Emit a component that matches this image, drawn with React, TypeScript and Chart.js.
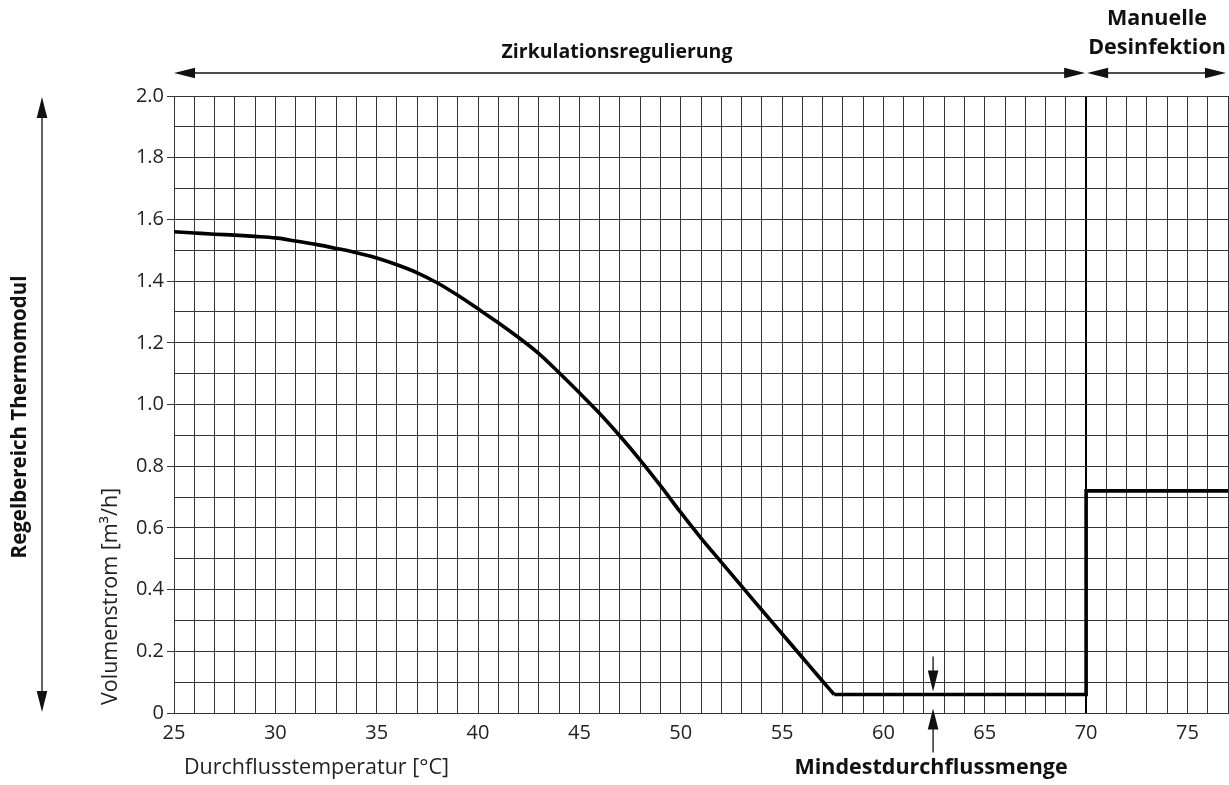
import React, { useEffect, useRef } from 'react';
import { Chart, registerables } from 'chart.js';

Chart.register(...registerables);

// ---- data ----
const curveTemps = [25, 26, 27, 28, 29, 30, 31, 32, 33, 34, 35, 36, 37, 38, 39, 40, 41, 42, 43, 44, 45, 46, 47, 48, 49, 50, 51, 52, 53, 54, 55, 56, 57, 57.57];
const curveFlow = [1.56, 1.556, 1.552, 1.549, 1.545, 1.54, 1.53, 1.519, 1.506, 1.492, 1.475, 1.453, 1.427, 1.394, 1.354, 1.31, 1.265, 1.217, 1.165, 1.103, 1.038, 0.971, 0.898, 0.82, 0.737, 0.65, 0.567, 0.489, 0.411, 0.334, 0.257, 0.18, 0.103, 0.06];
const stepTemps = [57.57, 70, 70, 77];
const stepFlow = [0.06, 0.06, 0.72, 0.72];

const xMin = 25;
const xMax = 77;
const yMin = 0;
const yMax = 2;
const xLabelEvery = 5;
const disinfectionTemp = 70;
const minFlowMarkerTemp = 62.45;
const minFlow = 0.06;

const titleTop = 'Zirkulationsregulierung';
const titleRight1 = 'Manuelle';
const titleRight2 = 'Desinfektion';
const titleLeft = 'Regelbereich Thermomodul';
const yTitle = 'Volumenstrom [m³/h]';
const xTitle = 'Durchflusstemperatur [°C]';
const minFlowLabel = 'Mindestdurchflussmenge';

const FONT = '"Open Sans", "Noto Sans", sans-serif';
const GRID = '#363636';
const INK = '#111';

function head(ctx: CanvasRenderingContext2D, x: number, y: number, dx: number, dy: number) {
  const len = 21;
  const hw = 5.3;
  ctx.beginPath();
  ctx.moveTo(x, y);
  ctx.lineTo(x - dx * len - dy * hw, y - dy * len + dx * hw);
  ctx.lineTo(x - dx * len + dy * hw, y - dy * len - dx * hw);
  ctx.closePath();
  ctx.fill();
}

function arrow(ctx: CanvasRenderingContext2D, x1: number, y1: number, x2: number, y2: number, startHead: boolean, endHead: boolean) {
  const L = Math.hypot(x2 - x1, y2 - y1);
  const dx = (x2 - x1) / L;
  const dy = (y2 - y1) / L;
  ctx.beginPath();
  ctx.moveTo(x1 + (startHead ? dx * 18 : 0), y1 + (startHead ? dy * 18 : 0));
  ctx.lineTo(x2 - (endHead ? dx * 18 : 0), y2 - (endHead ? dy * 18 : 0));
  ctx.stroke();
  if (startHead) head(ctx, x1, y1, -dx, -dy);
  if (endHead) head(ctx, x2, y2, dx, dy);
}

const annotations = {
  id: 'annotations',
  afterDraw(chart: any) {
    const ctx: CanvasRenderingContext2D = chart.ctx;
    const xs = chart.scales.x;
    const ys = chart.scales.y;
    const area = chart.chartArea;
    ctx.save();
    ctx.fillStyle = INK;
    ctx.strokeStyle = INK;
    ctx.lineWidth = 1.3;

    // top arrows
    const xDis = xs.getPixelForValue(disinfectionTemp);
    const yTopArrow = area.top - 23;
    arrow(ctx, area.left, yTopArrow, xDis - 1, yTopArrow, true, true);
    arrow(ctx, xDis + 1, yTopArrow, area.right - 2, yTopArrow, true, true);

    // left vertical arrow
    arrow(ctx, 42, area.top + 1, 42, area.bottom - 1, true, true);

    // min flow arrows
    const xm = xs.getPixelForValue(minFlowMarkerTemp);
    const ym = ys.getPixelForValue(minFlow);
    arrow(ctx, xm, ym - 38, xm, ym - 3, false, true);
    arrow(ctx, xm, ym + 58, xm, ym + 14, false, true);

    // texts
    ctx.textBaseline = 'middle';
    ctx.textAlign = 'center';
    ctx.font = `bold 19.5px ${FONT}`;
    ctx.fillText(titleTop, 617, 52);
    ctx.font = `bold 21.5px ${FONT}`;
    ctx.fillText(titleRight1, 1157, 19);
    ctx.fillText(titleRight2, 1157, 48);
    ctx.fillText(minFlowLabel, xm - 2, 768);

    ctx.save();
    ctx.translate(20, 417);
    ctx.rotate(-Math.PI / 2);
    ctx.font = `bold 20.5px ${FONT}`;
    ctx.fillText(titleLeft, 0, 0);
    ctx.restore();

    ctx.font = `21.5px ${FONT}`;
    ctx.fillStyle = '#222';
    ctx.save();
    ctx.translate(111, 705);
    ctx.rotate(-Math.PI / 2);
    ctx.textAlign = 'left';
    ctx.fillText(yTitle, 0, 0);
    ctx.restore();

    ctx.textAlign = 'left';
    ctx.fillText(xTitle, 184, 768);
    ctx.restore();
  },
};

export default function App() {
  const ref = useRef<HTMLCanvasElement | null>(null);
  useEffect(() => {
    if (!ref.current) return;
    const chart = new Chart(ref.current, {
      type: 'line',
      data: {
        datasets: [
          {
            data: curveTemps.map((t, i) => ({ x: t, y: curveFlow[i] })),
            borderColor: '#000',
            borderWidth: 3.6,
            pointRadius: 0,
            cubicInterpolationMode: 'monotone',
            fill: false,
          },
          {
            data: stepTemps.map((t, i) => ({ x: t, y: stepFlow[i] })),
            borderColor: '#000',
            borderWidth: 3.6,
            pointRadius: 0,
            tension: 0,
            fill: false,
          },
        ],
      },
      plugins: [annotations],
      options: {
        responsive: false,
        animation: false,
        devicePixelRatio: 1,
        layout: { padding: { top: 96, right: 1, left: 0, bottom: 0 } },
        plugins: { legend: { display: false }, tooltip: { enabled: false } },
        scales: {
          x: {
            type: 'linear',
            min: xMin,
            max: xMax,
            afterFit: (s: any) => { s.height = 72; s.paddingLeft = 0; s.paddingRight = 0; },
            ticks: {
              stepSize: 1,
              autoSkip: false,
              maxRotation: 0,
              padding: 8,
              color: '#222',
              font: { family: FONT, size: 20 },
              callback: (v: any) => (Math.round(v) % xLabelEvery === 0 ? String(Math.round(v)) : ''),
            },
            grid: {
              drawTicks: false,
              color: (c: any) => (c.tick && c.tick.value === disinfectionTemp ? '#000' : GRID),
              lineWidth: (c: any) => (c.tick && c.tick.value === disinfectionTemp ? 2 : 1),
            },
            border: { color: GRID, width: 1 },
          },
          y: {
            type: 'linear',
            min: yMin,
            max: yMax,
            afterFit: (s: any) => { s.width = 174; s.paddingTop = 0; s.paddingBottom = 0; },
            ticks: {
              stepSize: 0.1,
              autoSkip: false,
              padding: 3,
              color: '#222',
              font: { family: FONT, size: 20 },
              callback: (v: any) => {
                const k = Math.round(v * 10);
                if (k % 2 !== 0) return '';
                return k === 0 ? '0' : (k / 10).toFixed(1);
              },
            },
            grid: {
              color: GRID,
              lineWidth: 1,
              tickLength: 7,
              tickColor: (c: any) => (c.tick && Math.round(c.tick.value * 10) % 2 === 0 ? GRID : 'rgba(0,0,0,0)'),
            },
            border: { color: GRID, width: 1 },
          },
        },
      },
    });
    return () => chart.destroy();
  }, []);
  return (
    <div style={{ position: 'fixed', left: 0, top: 0, width: 1229, height: 785, background: '#fff' }}>
      <canvas ref={ref} width={1229} height={785} style={{ display: 'block' }} />
    </div>
  );
}
